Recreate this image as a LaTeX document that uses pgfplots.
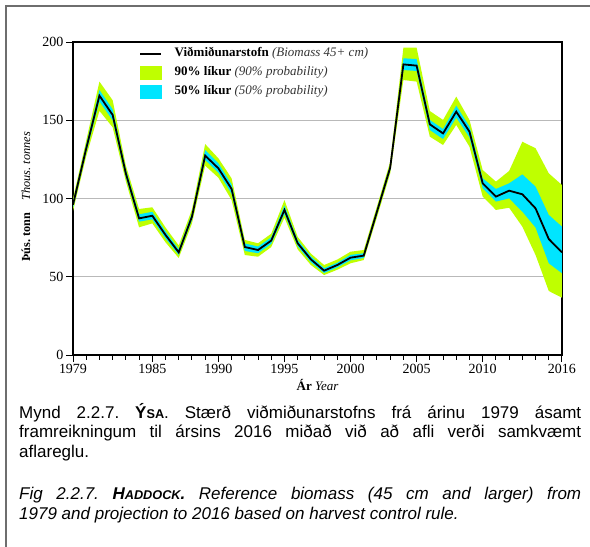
\documentclass[border=0pt]{standalone}
\usepackage{fontspec}
\setmainfont{Liberation Serif}
\newfontfamily\capfont{Liberation Sans}
\usepackage{pgfplots}
\pgfplotsset{compat=1.18}
\definecolor{limeg}{RGB}{191,255,0}
\definecolor{cyanb}{RGB}{0,229,255}
\definecolor{framegray}{RGB}{110,110,110}
\frenchspacing

\begin{document}
\begin{tikzpicture}
\useasboundingbox (0pt,0pt) rectangle (590pt,-547pt);
\draw[framegray, line width=1.2pt] (6pt,-547pt) -- (6pt,-6pt) -- (590pt,-6pt);
\begin{axis}[
  at={(73pt,-355pt)}, anchor=south west,
  width=489pt, height=313pt, scale only axis,
  xmin=1979, xmax=2016, ymin=0, ymax=200,
  xtick={1979,1985,1990,1995,2000,2005,2010,2016},
  minor xtick={1980,...,2015},
  ytick={0,50,100,150,200},
  xtick pos=bottom, ytick pos=left,
  tick align=outside,
  major tick length=7pt, minor tick length=4.5pt,
  every tick/.style={black, line width=1pt},
  axis line style={black, line width=1.3pt},
  ymajorgrids, grid style={gray!55, line width=0.9pt},
  /pgf/number format/assume math mode=true,
  x tick label style={/pgf/number format/1000 sep={}, font=\fontsize{14}{14}\selectfont, yshift=1.5pt},
  y tick label style={font=\fontsize{14}{14}\selectfont, xshift=1pt},
  legend style={at={(0.135,0.9856)}, anchor=north west, draw=none, fill=none,
    inner sep=0pt, row sep=4.5pt,
    nodes={font=\fontsize{13}{13}\selectfont, inner sep=1pt, text height=9pt, text depth=3.5pt},
    /tikz/every odd column/.append style={column sep=12pt}},
  legend cell align=left,
]
\addlegendimage{legend image code/.code={\draw[black, line width=2pt] (0pt,0pt) -- (20.5pt,0pt);}}
\addlegendentry{\textbf{Viðmiðunarstofn} {\color{black!80}\itshape (Biomass 45+ cm)}}
\addlegendimage{legend image code/.code={\fill[limeg] (0pt,-6.5pt) rectangle (20.5pt,6.5pt);}}
\addlegendentry{\textbf{90\% líkur} {\color{black!80}\itshape (90\% probability)}}
\addlegendimage{legend image code/.code={\fill[cyanb] (0pt,-6.5pt) rectangle (20.5pt,6.5pt);}}
\addlegendentry{\textbf{50\% líkur} {\color{black!80}\itshape (50\% probability)}}

% 90% band: upper bound 1979->2016, then lower bound 2016->1979
\addplot[fill=limeg, draw=none, forget plot] coordinates {
(1979,100) (1980,137) (1981,174.7) (1982,162.8) (1983,121) (1984,93.3) (1985,94.4) (1986,81.5) (1987,70) (1988,93)
(1989,134.8) (1990,125.7) (1991,112.9) (1992,73.5) (1993,71.4) (1994,77.5) (1995,99) (1996,75.5) (1997,64.8) (1998,57.5)
(1999,61) (2000,66) (2001,67.1) (2002,95) (2003,123.5) (2004,196.4) (2005,196.4) (2006,155.9) (2007,150.2) (2008,165.1)
(2009,150.2) (2010,118.2) (2011,110.8) (2012,117.6) (2013,136.3) (2014,132.1) (2015,116.1) (2016,108.6)
(2016,36.6) (2015,40.9) (2014,63.9) (2013,82) (2012,94.1) (2011,92.7) (2010,101.2) (2009,133.1) (2008,147) (2007,134.2)
(2006,139.5) (2005,174.7) (2004,175.7) (2003,116) (2002,88) (2001,60.7) (2000,58.6) (1999,54.5) (1998,51.1) (1997,57.5)
(1996,67.5) (1995,87.8) (1994,69) (1993,62.8) (1992,63.9) (1991,99) (1990,113.3) (1989,121) (1988,84) (1987,62)
(1986,72) (1985,84.1) (1984,81.6) (1983,111) (1982,145.5) (1981,156) (1980,127) (1979,92)
} -- cycle;
% 50% band
\addplot[fill=cyanb, draw=none, forget plot] coordinates {
(1979,98) (1980,134.5) (1981,169.3) (1982,157) (1983,118.5) (1984,89.9) (1985,91.5) (1986,79) (1987,67.5) (1988,90.5)
(1989,131) (1990,122.5) (1991,109) (1992,71.3) (1993,69.3) (1994,75.2) (1995,95.5) (1996,73.4) (1997,63) (1998,55.5)
(1999,59) (2000,64) (2001,65) (2002,93.2) (2003,121.5) (2004,189.6) (2005,189.1) (2006,150.2) (2007,144.4) (2008,159.3)
(2009,146) (2010,112.9) (2011,106.1) (2012,109.7) (2013,115.4) (2014,107.6) (2015,89.5) (2016,82)
(2016,52.2) (2015,58.6) (2014,81.4) (2013,91.6) (2012,100.1) (2011,98) (2010,106.5) (2009,139) (2008,151.7) (2007,138)
(2006,143.8) (2005,181.5) (2004,182.1) (2003,118) (2002,90) (2001,62) (2000,60.5) (1999,56) (1998,52.4) (1997,59.3)
(1996,69.5) (1995,90.3) (1994,71) (1993,65) (1992,66.5) (1991,103) (1990,116.5) (1989,124.6) (1988,86.3) (1987,64)
(1986,74.5) (1985,86.7) (1984,85.2) (1983,113.5) (1982,150) (1981,162) (1980,129.5) (1979,94)
} -- cycle;
% reference biomass
\addplot[black, line width=1.8pt, forget plot] coordinates {
(1979,96) (1980,132) (1981,165.7) (1982,153.4) (1983,116) (1984,87.3) (1985,89) (1986,76.7) (1987,65.6) (1988,88.4)
(1989,127.4) (1990,119.3) (1991,106.1) (1992,69) (1993,67.1) (1994,73.1) (1995,92.7) (1996,71.4) (1997,61.1) (1998,53.9)
(1999,57.5) (2000,62.2) (2001,63.5) (2002,91.6) (2003,119.7) (2004,185.7) (2005,184.9) (2006,147.4) (2007,141.6) (2008,155.5)
(2009,142.7) (2010,109.7) (2011,101.2) (2012,105) (2013,102.7) (2014,93.7) (2015,74.1) (2016,65.6)
};
\end{axis}
\node[rotate=90, font=\fontsize{12.3}{12.3}\selectfont] at (26pt,-197pt) {\textbf{Þús. tonn}\quad{\itshape Thous. tonnes}};
\node[font=\fontsize{13}{13}\selectfont] at (317.5pt,-385pt) {\textbf{Ár} {\itshape Year}};
\node[anchor=base west, inner sep=0pt, text width=562pt, align=justify, font=\capfont\fontsize{17}{19.5}\selectfont] at (19pt,-418pt)
 {Mynd 2.2.7. \textbf{Ý{\fontsize{12.7}{10}\selectfont SA}}. Stærð viðmiðunarstofns frá árinu 1979 ásamt\linebreak framreikningum til ársins 2016 miðað við að afli verði samkvæmt\linebreak aflareglu.};
\node[anchor=base west, inner sep=0pt, text width=562pt, align=justify, font=\capfont\fontsize{17}{20}\selectfont] at (19pt,-499pt)
 {\itshape Fig 2.2.7. \textbf{H{\fontsize{12.7}{10}\selectfont ADDOCK}.} Reference biomass (45 cm and larger) from\linebreak 1979 and projection to 2016 based on harvest control rule.};
\end{tikzpicture}
\end{document}
